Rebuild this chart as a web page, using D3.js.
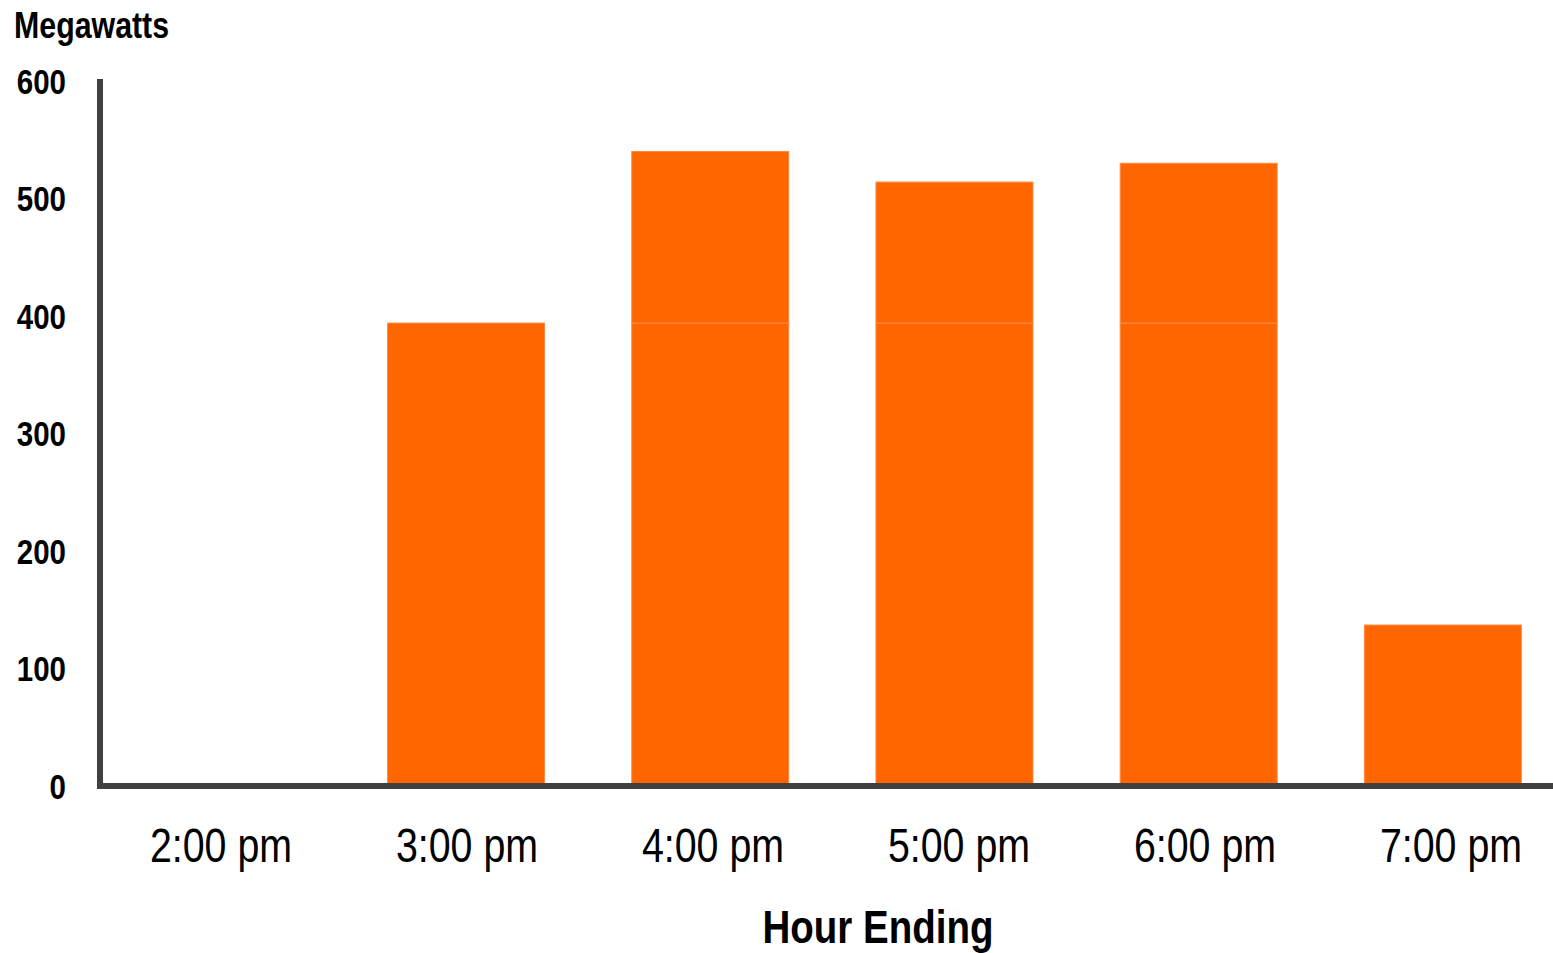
<!DOCTYPE html>
<html>
<head>
<meta charset="utf-8">
<script src="https://cdn.jsdelivr.net/npm/d3@7"></script>
<style>
  html, body { margin: 0; padding: 0; background: #fff; }
  svg { display: block; }
  text { font-family: "Liberation Sans", Arial, sans-serif; fill: #000; }
</style>
</head>
<body>
<svg id="chart" width="1553" height="953"></svg>
<script>
// Hour-ending categories and stacked megawatt values
const hours = ["2:00 pm", "3:00 pm", "4:00 pm", "5:00 pm", "6:00 pm", "7:00 pm"];
const baseMW = [0, 394, 394, 394, 394, 137];
const addedMW = [0, 0, 146, 120, 136, 0];
const yTicks = [0, 100, 200, 300, 400, 500, 600];

const svg = d3.select("#chart");
const W = 1553;
const narrow = 0.82; // horizontal squeeze for a narrow typeface look

const x = d3.scaleBand()
  .domain(hours)
  .range([99.7, 1565])
  .paddingInner(0.357)
  .paddingOuter(0.1785);

// Category label positions along the x axis
const xLabel = d3.scalePoint().domain(hours).range([221, 1451]);

const y = d3.scaleLinear().domain([0, 600]).range([786, 81]);

const rows = hours.map((h, i) => ({ hour: h, base: baseMW[i], added: addedMW[i] }));
const stacked = d3.stack().keys(["base", "added"])(rows);

const barFill = "#FF6600";
const barEdge = "#FF8A45";

svg.append("g").selectAll("g")
  .data(stacked)
  .join("g")
  .selectAll("rect")
  .data(d => d.filter(s => s[1] - s[0] > 0))
  .join("rect")
  .attr("x", d => x(d.data.hour))
  .attr("width", x.bandwidth())
  .attr("y", d => y(d[1]))
  .attr("height", d => y(d[0]) - y(d[1]))
  .attr("fill", barFill)
  .attr("stroke", barEdge)
  .attr("stroke-width", 1);

// Axes lines
const axisColor = "#404040";
svg.append("line")
  .attr("x1", 100).attr("x2", 100)
  .attr("y1", 79).attr("y2", 789)
  .attr("stroke", axisColor).attr("stroke-width", 6);
svg.append("line")
  .attr("x1", 97).attr("x2", W)
  .attr("y1", 786).attr("y2", 786)
  .attr("stroke", axisColor).attr("stroke-width", 6);

// Helper: place a squeezed text at (px, py)
function label(g, px, py) {
  return g.append("g").attr("transform", `translate(${px},${py}) scale(${narrow},1)`).append("text");
}

// Y tick labels
const yg = svg.append("g");
yTicks.forEach(t => {
  label(yg, 66, y(t))
    .attr("dy", "0.36em")
    .attr("text-anchor", "end")
    .attr("font-size", 36)
    .attr("font-weight", "bold")
    .text(t);
});

// X tick labels
const xg = svg.append("g");
hours.forEach(h => {
  label(xg, xLabel(h), 862)
    .attr("text-anchor", "middle")
    .attr("font-size", 48)
    .text(h);
});

// Axis titles
label(svg, 14, 38)
  .attr("font-size", 37)
  .attr("font-weight", "bold")
  .text("Megawatts");

label(svg, 878, 943)
  .attr("text-anchor", "middle")
  .attr("font-size", 47)
  .attr("font-weight", "bold")
  .text("Hour Ending");
</script>
</body>
</html>
